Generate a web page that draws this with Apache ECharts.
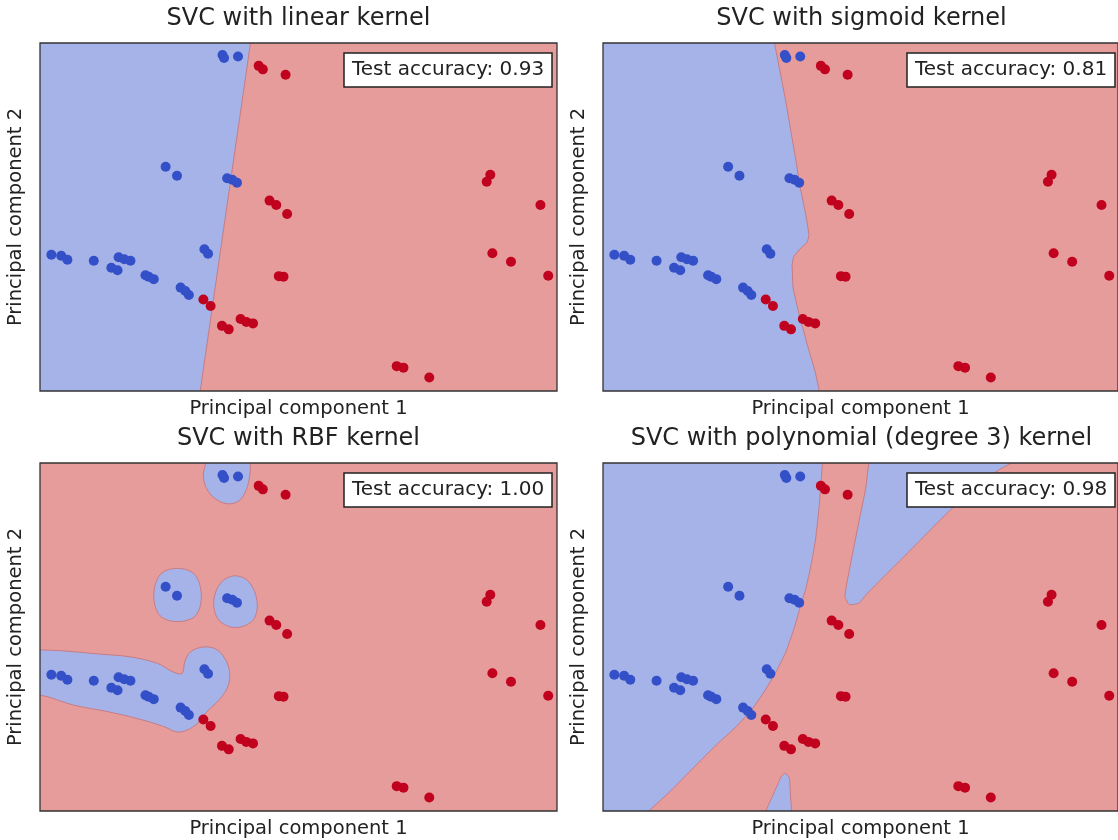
<!DOCTYPE html>
<html>
<head>
<meta charset="utf-8">
<script src="https://cdn.jsdelivr.net/npm/echarts@6/dist/echarts.min.js"></script>
<style>
  html, body { margin: 0; padding: 0; background: #ffffff; }
  #chart { width: 1118px; height: 840px; }
</style>
</head>
<body>
<div id="chart"></div>
<script>
// ---------------- data ----------------
const panelTitles = [
  'SVC with linear kernel',
  'SVC with sigmoid kernel',
  'SVC with RBF kernel',
  'SVC with polynomial (degree 3) kernel'
];
const accuracies = ['0.93', '0.81', '1.00', '0.98'];
const xAxisName = 'Principal component 1';
const yAxisName = 'Principal component 2';

// class 0 (blue) samples, [PC1, PC2]
const bluePoints = [
  [3.53, 6.76], [3.56, 6.70], [3.83, 6.73],
  [2.43, 4.51], [2.65, 4.33],
  [3.62, 4.28], [3.72, 4.25], [3.81, 4.19],
  [0.22, 2.74], [0.41, 2.72], [0.53, 2.64],
  [1.04, 2.62],
  [1.52, 2.69], [1.63, 2.65], [1.75, 2.62],
  [1.38, 2.48], [1.50, 2.43],
  [2.04, 2.33], [2.10, 2.30], [2.20, 2.25],
  [2.72, 2.08], [2.81, 2.01], [2.88, 1.93],
  [3.18, 2.85], [3.25, 2.76]
];
// class 1 (red) samples, [PC1, PC2]
const redPoints = [
  [4.23, 6.54], [4.31, 6.47], [4.75, 6.36],
  [4.44, 3.83], [4.57, 3.74], [4.78, 3.56],
  [3.16, 1.84], [3.30, 1.71],
  [3.52, 1.31], [3.65, 1.24],
  [3.88, 1.45], [3.99, 1.39], [4.12, 1.36],
  [4.62, 2.31], [4.71, 2.30],
  [8.71, 4.35], [8.64, 4.21],
  [9.68, 3.74],
  [8.75, 2.77], [9.11, 2.60], [9.83, 2.32],
  [6.90, 0.50], [7.03, 0.47], [7.53, 0.27]
];

// decision regions of class 0 (blue), outlines in data units
const linearBlue = [[-1, -1], [2.96, -1], [4.21, 8], [-1, 8]];
const sigmoidBlue = [
  [-1, 8], [3.14, 8], [3.33, 7.0], [3.55, 5.82], [3.75, 4.61], [3.82, 4.14],
  [3.94, 3.54], [4.00, 3.14], [3.97, 3.00], [3.81, 2.84], [3.70, 2.70],
  [3.67, 2.53], [3.69, 2.07], [3.81, 1.53], [3.97, 0.92], [4.12, 0.39],
  [4.20, 0.0], [4.40, -1], [-1, -1]
];
const rbfBlobTop = [
  [3.20, 7.5], [3.20, 6.99], [3.16, 6.76], [3.22, 6.49], [3.38, 6.29],
  [3.62, 6.18], [3.85, 6.24], [3.99, 6.46], [4.06, 6.76], [4.07, 7.0], [4.07, 7.5]
];
const rbfBlobMidLeft = [
  [2.66, 4.88], [2.99, 4.76], [3.12, 4.34], [3.01, 3.93],
  [2.66, 3.81], [2.32, 3.93], [2.20, 4.34], [2.33, 4.76]
];
const rbfBlobMidRight = [
  [3.76, 4.73], [4.04, 4.61], [4.20, 4.21], [4.12, 3.84],
  [3.78, 3.69], [3.46, 3.84], [3.36, 4.21], [3.49, 4.58]
];
const rbfBlobLeft = [
  [-0.5, 3.24], [0.01, 3.24], [0.46, 3.22], [1.11, 3.16], [1.75, 3.10],
  [2.27, 2.97], [2.59, 2.79], [2.75, 2.77], [2.80, 3.00], [2.91, 3.20],
  [3.17, 3.30], [3.43, 3.24], [3.61, 3.00], [3.67, 2.74], [3.62, 2.47],
  [3.46, 2.23], [3.23, 2.00], [3.04, 1.76], [2.85, 1.63], [2.65, 1.59],
  [2.39, 1.70], [1.88, 1.86], [1.30, 2.00], [0.65, 2.13], [0.01, 2.33], [-0.5, 2.33]
];
const polyBlueLeft = [
  [-1, 8], [4.33, 8], [4.26, 6.99], [4.20, 6.16], [4.13, 5.49], [4.04, 4.95],
  [3.94, 4.48], [3.84, 4.14], [3.71, 3.67], [3.55, 3.20], [3.36, 2.80],
  [3.13, 2.40], [2.91, 2.07], [2.59, 1.70], [2.20, 1.33], [1.68, 0.79],
  [1.30, 0.39], [0.91, 0.02], [-0.14, -1], [-1, -1]
];
const polyBlueWedge = [
  [5.28, 8], [5.16, 7.0], [5.10, 6.49], [4.97, 5.82], [4.84, 5.15], [4.74, 4.61],
  [4.70, 4.31], [4.78, 4.15], [4.97, 4.18], [5.10, 4.34], [5.42, 4.68],
  [5.74, 5.01], [6.07, 5.35], [6.39, 5.69], [6.71, 6.02], [7.03, 6.32],
  [7.36, 6.62], [7.68, 6.86], [7.94, 7.0], [8.5, 7.3], [8.5, 8]
];
const polyBlueSpike = [
  [2.95, -0.5], [3.17, 0.02], [3.33, 0.39], [3.46, 0.69], [3.54, 0.76],
  [3.62, 0.66], [3.64, 0.32], [3.66, 0.02], [3.69, -0.5]
];

const panelRegions = [
  [linearBlue],
  [sigmoidBlue],
  [rbfBlobTop, rbfBlobMidLeft, rbfBlobMidRight, rbfBlobLeft],
  [polyBlueLeft, polyBlueWedge, polyBlueSpike]
];
const panelSmooth = [0, 0, 0.35, 0.15];

// ---------------- styling / layout ----------------
const FONT = 'DejaVu Sans';
const BLUE_BG = '#a6b3e8';
const RED_BG = '#e69c9b';
const BLUE_PT = '#3450c8';
const RED_PT = '#c0021f';
const EDGE = 'rgba(196,120,128,0.9)';

const gridPos = [
  { left: 40, top: 43 },
  { left: 603, top: 43 },
  { left: 40, top: 463 },
  { left: 603, top: 463 }
];
const GW = 517, GH = 348;
const X_RANGE = [0, 10], Y_RANGE = [0, 7];

const grids = [], xAxes = [], yAxes = [], series = [], titles = [], graphics = [];

gridPos.forEach((g, i) => {
  grids.push({
    left: g.left, top: g.top, width: GW, height: GH,
    show: true, backgroundColor: RED_BG, borderWidth: 0
  });
  xAxes.push({
    gridIndex: i, type: 'value', min: X_RANGE[0], max: X_RANGE[1],
    axisLine: { show: false }, axisTick: { show: false },
    axisLabel: { show: false }, splitLine: { show: false },
    name: xAxisName, nameLocation: 'middle', nameGap: 8,
    nameTextStyle: { fontFamily: FONT, fontSize: 19.5, color: '#222', verticalAlign: 'top' }
  });
  yAxes.push({
    gridIndex: i, type: 'value', min: Y_RANGE[0], max: Y_RANGE[1],
    axisLine: { show: false }, axisTick: { show: false },
    axisLabel: { show: false }, splitLine: { show: false },
    name: yAxisName, nameLocation: 'middle', nameGap: 14, nameRotate: 90,
    nameTextStyle: { fontFamily: FONT, fontSize: 19.5, color: '#222' }
  });

  // blue decision regions
  panelRegions[i].forEach((poly) => {
    series.push({
      type: 'custom', xAxisIndex: i, yAxisIndex: i, z: 2,
      silent: true, clip: true,
      data: [0],
      renderItem: function (params, api) {
        const cs = params.coordSys;
        const pts = poly.map(p => api.coord(p));
        return {
          type: 'polygon',
          shape: { points: pts, smooth: panelSmooth[i] },
          style: { fill: BLUE_BG, stroke: EDGE, lineWidth: 1 },
          clipPath: { type: 'rect', shape: { x: cs.x, y: cs.y, width: cs.width, height: cs.height } }
        };
      }
    });
  });

  // samples
  series.push({
    type: 'scatter', xAxisIndex: i, yAxisIndex: i, z: 5,
    symbolSize: 10, data: bluePoints,
    itemStyle: { color: BLUE_PT, opacity: 1 }
  });
  series.push({
    type: 'scatter', xAxisIndex: i, yAxisIndex: i, z: 5,
    symbolSize: 10, data: redPoints,
    itemStyle: { color: RED_PT, opacity: 1 }
  });

  // frame
  series.push({
    type: 'custom', xAxisIndex: i, yAxisIndex: i, z: 8, silent: true,
    data: [0],
    renderItem: function (params, api) {
      const cs = params.coordSys;
      return {
        type: 'rect',
        shape: { x: cs.x, y: cs.y, width: cs.width, height: cs.height },
        style: { fill: null, stroke: '#333', lineWidth: 1.3 }
      };
    }
  });

  // subplot title
  graphics.push({
    type: 'text', x: g.left + GW / 2, y: g.top - 24,
    style: {
      text: panelTitles[i], x: 0, y: 0, textAlign: 'center', textVerticalAlign: 'middle',
      font: '24px "' + FONT + '"', fill: '#222'
    }
  });

  // accuracy box
  titles.push({
    text: 'Test accuracy: ' + accuracies[i],
    left: g.left + GW - 3 - 210, top: g.top + 10,
    padding: [6, 8],
    backgroundColor: '#ffffff', borderColor: '#222', borderWidth: 1.5,
    textStyle: { fontFamily: FONT, fontSize: 20, fontWeight: 'normal', color: '#222', lineHeight: 22 }
  });
});

const chart = echarts.init(document.getElementById('chart'), null, { renderer: 'canvas' });
chart.setOption({
  animation: false,
  backgroundColor: '#ffffff',
  title: titles,
  grid: grids,
  xAxis: xAxes,
  yAxis: yAxes,
  series: series,
  graphic: graphics
});
</script>
</body>
</html>
